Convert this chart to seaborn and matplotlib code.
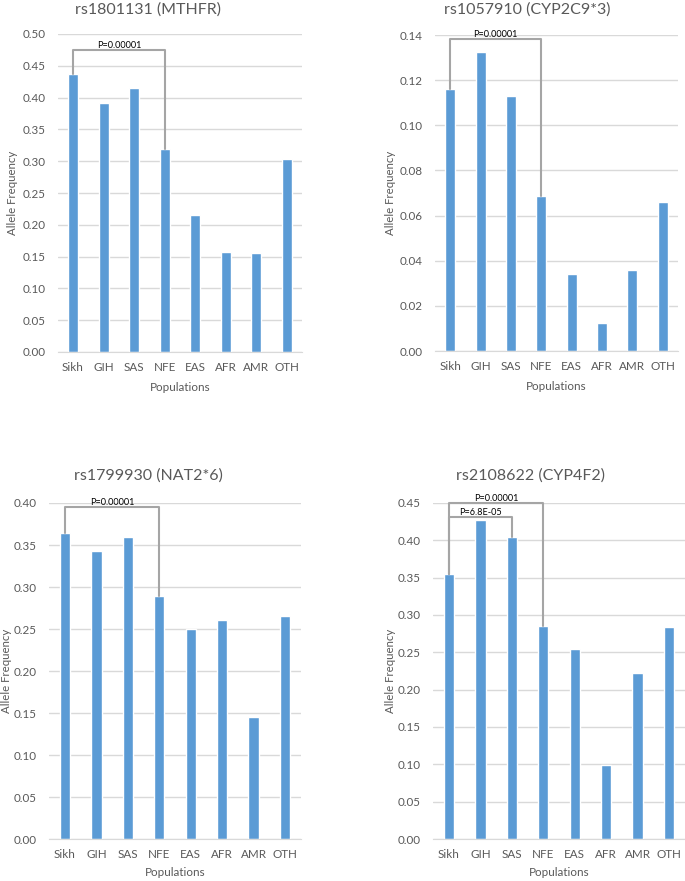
import matplotlib
matplotlib.use("Agg")
import matplotlib.pyplot as plt
import seaborn as sns
import pandas as pd

# Populations on the x axis (same for all panels)
populations = ['Sikh', 'GIH', 'SAS', 'NFE', 'EAS', 'AFR', 'AMR', 'OTH']

# Allele frequencies
mthfr = [0.437, 0.391, 0.415, 0.319, 0.215, 0.158, 0.155, 0.304]
cyp2c9 = [0.116, 0.1325, 0.113, 0.0687, 0.034, 0.0125, 0.036, 0.066]
nat2 = [0.364, 0.343, 0.360, 0.289, 0.250, 0.261, 0.145, 0.265]
cyp4f2 = [0.355, 0.427, 0.404, 0.285, 0.254, 0.099, 0.222, 0.284]

titles = ['rs1801131 (MTHFR)', 'rs1057910 (CYP2C9*3)',
          'rs1799930 (NAT2*6)', 'rs2108622 (CYP4F2)']

# significance brackets: (from idx, to idx, bracket height, label)
brackets_mthfr = [(0, 3, 0.475, 'P=0.00001')]
brackets_cyp2c9 = [(0, 3, 0.1384, 'P=0.00001')]
brackets_nat2 = [(0, 3, 0.3956, 'P=0.00001')]
brackets_cyp4f2 = [(0, 3, 0.450, 'P=0.00001'), (0, 2, 0.431, 'P=6.8E-05')]

ylims = [(0, 0.50, 0.05), (0, 0.14, 0.02), (0, 0.40, 0.05), (0, 0.45, 0.05)]

BAR = '#5B9BD5'
GRID = '#D9D9D9'
TXT = '#595959'
BRK = '#A5A5A5'

sns.set_style('white')
plt.rcParams['font.family'] = ['Lato', 'DejaVu Sans']

W, H = 685, 881
fig = plt.figure(figsize=(W / 100, H / 100), dpi=100)

# axes boxes in pixels: left, right, top, bottom
boxes = [(57.7, 302.3, 34, 352), (435, 678, 35, 351),
         (49.3, 300.7, 503, 839), (433.3, 684.7, 503, 839)]
title_pos = [(148, 10), (527, 10), (148, 476), (531, 476)]
ylab_x = [12, 391, 7, 390]
xlab_y = [387, 386, 873, 873]

panels = [mthfr, cyp2c9, nat2, cyp4f2]
brackets = [brackets_mthfr, brackets_cyp2c9, brackets_nat2, brackets_cyp4f2]

for i, vals in enumerate(panels):
    l, r, t, b = boxes[i]
    ax = fig.add_axes([l / W, 1 - b / H, (r - l) / W, (b - t) / H])
    df = pd.DataFrame({'Population': populations, 'Freq': vals})
    sns.barplot(data=df, x='Population', y='Freq', color=BAR, width=0.33,
                saturation=1, ax=ax)
    lo, hi, step = ylims[i]
    ax.set_ylim(lo, hi)
    n = int(round((hi - lo) / step))
    ax.set_yticks([lo + k * step for k in range(n + 1)])
    ax.set_yticklabels([f'{lo + k * step:.2f}' for k in range(n + 1)])
    ax.set_xlim(-0.5, len(populations) - 0.5)
    ax.grid(axis='y', color=GRID, linewidth=1)
    ax.set_axisbelow(True)
    for s in ['top', 'right', 'left']:
        ax.spines[s].set_visible(False)
    ax.spines['bottom'].set_color(GRID)
    ax.tick_params(length=0, labelsize=8.4, labelcolor=TXT)
    ax.tick_params(axis='y', pad=9)
    ax.tick_params(axis='x', pad=7)
    ax.set_xlabel('')
    ax.set_ylabel('')

    for (a, c, h, lab) in brackets[i]:
        ax.plot([a, a, c, c], [vals[a], h, h, vals[c]], color=BRK,
                linewidth=1.5, clip_on=False, zorder=3)
        ax.text((a + c) / 2, h, lab, ha='center', va='bottom', fontsize=6.6,
                color='black')

    tx, ty = title_pos[i]
    fig.text(tx / W, 1 - ty / H, titles[i], ha='center', va='center',
             fontsize=11.5, color=TXT)
    fig.text(ylab_x[i] / W, 1 - ((t + b) / 2) / H, 'Allele Frequency',
             rotation=90, ha='center', va='center', fontsize=8.2, color=TXT)
    fig.text(((l + r) / 2) / W, 1 - xlab_y[i] / H, 'Populations',
             ha='center', va='center', fontsize=8.4, color=TXT)

fig.savefig('out.png', dpi=100, facecolor='white')
